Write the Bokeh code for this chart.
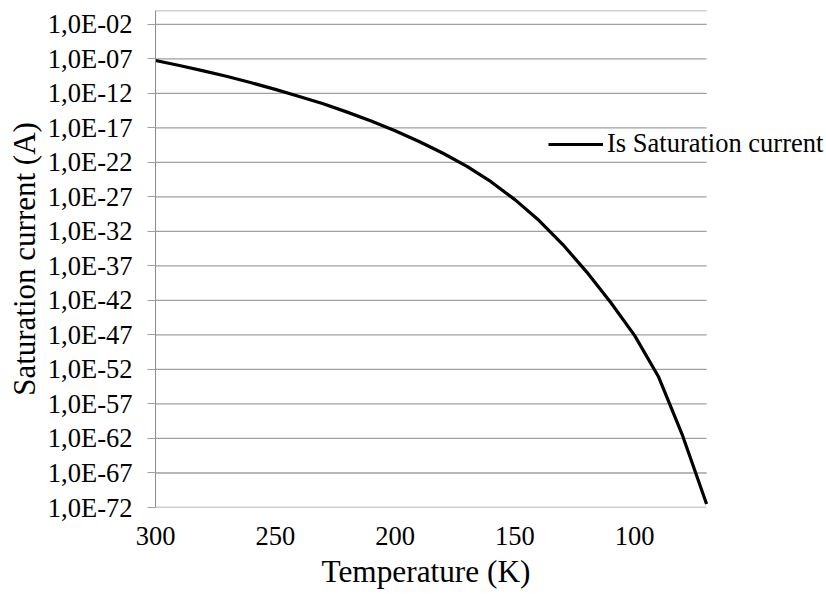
from bokeh.plotting import figure
from bokeh.models import Range1d, FixedTicker, CustomJSTickFormatter, Title
from bokeh.embed import file_html
from bokeh.resources import INLINE

# Diode saturation current versus temperature, 300 K down to 70 K
temperature_K = [300, 290, 280, 270, 260, 250, 240, 230, 220, 210, 200, 190,
                 180, 170, 160, 150, 140, 130, 120, 110, 100, 90, 80, 70]
saturation_current_A = [5.6e-08, 1.07e-08, 1.8e-09, 2.7e-10, 3.4e-11, 3.7e-12,
                        3.5e-13, 3.0e-14, 1.9e-15, 1.0e-16, 3.8e-18, 1.05e-19,
                        2.1e-21, 2.7e-23, 1.6e-25, 4.0e-28, 4.0e-31, 1.26e-34,
                        1.26e-38, 5.0e-43, 7.9e-48, 7.9e-54, 2.5e-62, 3.2e-72]

x_tick_values = [300, 250, 200, 150, 100]
y_tick_exponents = [-72, -67, -62, -57, -52, -47, -42, -37, -32, -27, -22, -17, -12, -7, -2]
y_top = 1.0
series_name = "Is Saturation current"
x_title = "Temperature (K)"
y_title = "Saturation current (A)"

FONT = "'Liberation Serif', 'Times New Roman', serif"
GRID = "#a0a0a0"
AXIS = "#8c8c8c"

# plot area spans 300 K .. 70 K at 2.396 px/K; the frame continues to the
# right edge of the canvas so the legend text has room
px_per_K = 2.396
left_px, width_px = 155, 826
x_far = temperature_K[0] - (width_px - left_px) / px_per_K

p = figure(width=width_px, height=594, y_axis_type="log",
           x_range=Range1d(temperature_K[0], x_far),
           y_range=Range1d(10.0 ** y_tick_exponents[0], y_top),
           output_backend="svg", toolbar_location=None,
           min_border_left=left_px, min_border_right=0,
           min_border_top=10, min_border_bottom=87)
p.outline_line_color = None
p.background_fill_color = "white"
p.border_fill_color = "white"
p.xgrid.visible = False
p.ygrid.visible = False

# horizontal gridlines over the temperature span, plus the top edge line
y_ticks = [10.0 ** e for e in y_tick_exponents]
grid_y = y_ticks + [y_top]
p.segment(x0=[temperature_K[0]] * len(grid_y), x1=[temperature_K[-1]] * len(grid_y),
          y0=grid_y, y1=grid_y, line_color=GRID, line_width=1.3)

p.line(temperature_K, saturation_current_A, line_color="black", line_width=3.2,
       line_join="round", legend_label=series_name)

# x axis (its title is centred under the 300..70 K span, not the whole frame)
p.xaxis.ticker = FixedTicker(ticks=x_tick_values)
p.xaxis.major_tick_line_color = None
p.xaxis.minor_tick_line_color = None
p.xaxis.axis_line_color = None
p.xaxis.major_label_standoff = 13
p.add_layout(Title(text=x_title, align="left", offset=166, standoff=9,
                   text_font=FONT, text_font_size="31.3px",
                   text_font_style="normal", text_color="black"), "below")

# y axis
p.yaxis.ticker = FixedTicker(ticks=y_ticks)
p.yaxis.formatter = CustomJSTickFormatter(code="""
    const e = Math.round(Math.log10(tick));
    const a = Math.abs(e);
    return "1,0E" + (e < 0 ? "-" : "+") + (a < 10 ? "0" + a : "" + a);
""")
p.yaxis.axis_label = y_title
p.yaxis.major_tick_in = 0
p.yaxis.major_tick_out = 8
p.yaxis.major_tick_line_color = GRID
p.yaxis.minor_tick_line_color = None
p.yaxis.axis_line_color = AXIS
p.yaxis.major_label_standoff = 15
p.yaxis.axis_label_standoff = 3
p.yaxis.axis_label_text_font = FONT
p.yaxis.axis_label_text_font_size = "31px"
p.yaxis.axis_label_text_font_style = "normal"
p.yaxis.axis_label_text_color = "black"

for ax in (p.xaxis, p.yaxis):
    ax.major_label_text_font = FONT
    ax.major_label_text_font_size = "26.5px"
    ax.major_label_text_color = "black"

leg = p.legend[0]
leg.location = (393, 348)
leg.background_fill_alpha = 0
leg.border_line_color = None
leg.padding = 0
leg.margin = 0
leg.spacing = 0
leg.glyph_width = 55
leg.glyph_height = 20
leg.label_standoff = 4
leg.label_text_font = FONT
leg.label_text_font_size = "26.5px"
leg.label_text_color = "black"

open("out.html", "w").write(file_html(p, INLINE))
